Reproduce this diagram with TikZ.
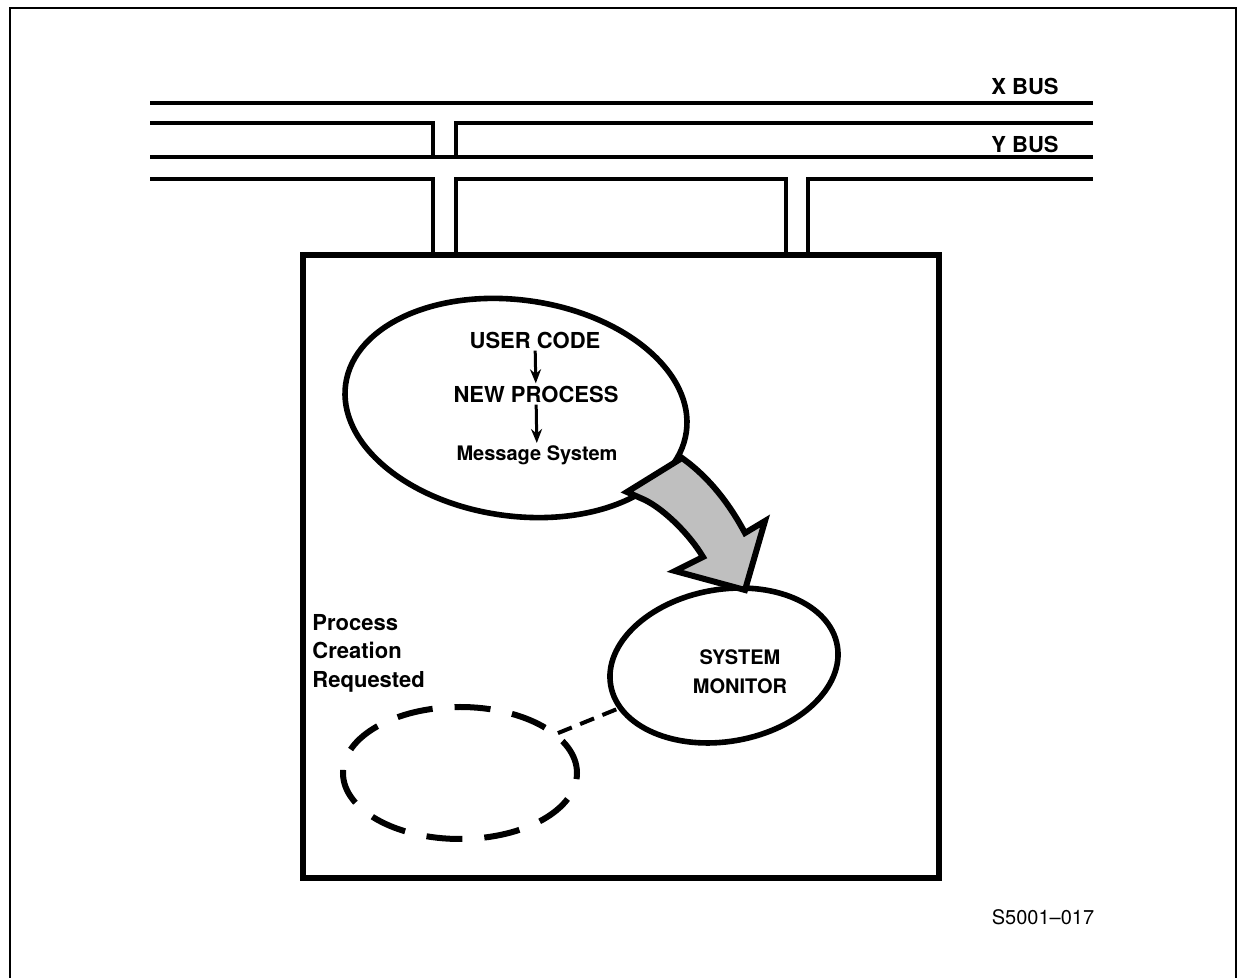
\documentclass[tikz,border=0pt]{standalone}
\usepackage{fontspec}
\setmainfont{TeX Gyre Heros}
\usetikzlibrary{shapes.geometric, arrows.meta}
\tikzset{>={Stealth[length=7pt,width=5.5pt]}}

\begin{document}
\begin{tikzpicture}[x=0.5pt, y=-0.5pt, font=\fontsize{11}{14}\selectfont\bfseries,
    bus/.style={line width=1.6pt},
    proc/.style={ellipse, draw, line width=2.8pt, inner sep=0pt},
    lbl/.style={inner sep=1pt}]
    \useasboundingbox (0,0) rectangle (1239,978);
    % outer frame
    \draw[line width=1.2pt] (10,978) -- (10,8) -- (1236,8) -- (1236,978);
    % x bus
    \draw[bus] (150,103) -- (1093,103);
    \draw[bus] (150,123) -- (433,123) -- (433,157);
    \draw[bus] (456,157) -- (456,123) -- (1093,123);
    \node[lbl, anchor=base] (xbus) at (1025,95) {X BUS};
    % y bus
    \draw[bus] (150,157) -- (1093,157);
    \draw[bus] (150,179) -- (433,179) -- (433,255);
    \draw[bus] (456,255) -- (456,179) -- (786,179) -- (786,255);
    \draw[bus] (808,255) -- (808,179) -- (1093,179);
    \node[lbl, anchor=base] (ybus) at (1025,153) {Y BUS};
    % processor box
    \node[draw, line width=3.3pt, minimum width=318pt, minimum height=311.5pt] (cpu) at (621,566.5) {};
    % user process
    \node[proc, rotate=-8, minimum width=172pt, minimum height=108pt] (user) at (516,408) {};
    \node[lbl] (uc) at (535,340) {USER CODE};
    \node[lbl] (np) at (536,394) {NEW PROCESS};
    \node[lbl, font=\fontsize{10}{12}\selectfont\bfseries] (ms) at (537,455) {Message System};
    \draw[->, line width=1.5pt] (uc) -- (np);
    \draw[->, line width=1.5pt] (np) -- (ms);
    % system monitor
    \node[proc, rotate=10, minimum width=115pt, minimum height=76pt] (mon) at (724,665.5) {};
    \node[lbl, align=center, font=\fontsize{10}{14.5}\selectfont\bfseries] (montxt) at (740,672) {SYSTEM\\MONITOR};
    % shaded arrow
    \draw[line width=3pt, fill=gray!50, line join=miter]
      (627,492) -- (682,458) .. controls (710,478) and (730,505) .. (745,533)
      -- (765,521) -- (745,590) -- (675,571) -- (703,557)
      .. controls (690,535) and (665,510) .. (645,500) -- cycle;
    % requested process
    \node[lbl, anchor=north west, align=left,
      font=\fontsize{11}{14.25}\selectfont\bfseries] (reqtxt) at (310,612) {Process\\Creation\\Requested};
    \node[proc, line width=3pt, dash pattern=on 18pt off 11pt,
      minimum width=117pt, minimum height=66pt] (dreq) at (460,773) {};
    \draw[line width=2pt, dash pattern=on 7.5pt off 4.5pt] (dreq) -- (mon);
    % figure number
    \node[lbl, font=\fontsize{10}{12}\selectfont] (fig) at (1043,917) {S5001--017};
\end{tikzpicture}
\end{document}
